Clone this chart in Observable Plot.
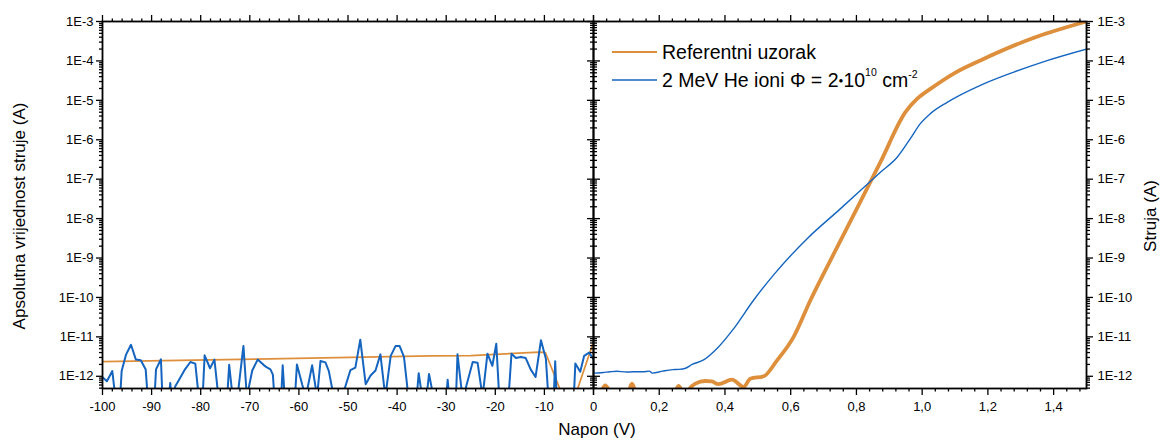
<!DOCTYPE html>
<html><head><meta charset="utf-8">
<script src="https://cdn.jsdelivr.net/npm/d3@7"></script>
<script src="https://cdn.jsdelivr.net/npm/@observablehq/plot@0.6"></script>
<style>
body{margin:0;background:#fff;}
#wrap{position:relative;width:1164px;height:440px;font-family:"Liberation Sans",Arial,sans-serif;}
#wrap svg{position:absolute;top:0;overflow:visible;}
</style></head>
<body><div id="wrap"></div>
<script>
// value used for readings that fall below the bottom of the axis (clipped)
const BELOW = 3e-13;

// Left panel (reverse bias), voltage in V, current in A
const refLeftV = [-100, -66, -33, -25, -11, -9.8, -6.2, -3.8, 0];
const refLeftI = [2.35e-12, 2.75e-12, 3.3e-12, 3.35e-12, 4.1e-12, 4.0e-12, BELOW, BELOW, 7.5e-12];

const ionLeftV = [-100, -99.1, -98, -97.4, -96.4, -96.1, -95.2, -94.2, -93.2, -92.2, -91.2, -90.8, -89.4, -89.1, -88.1, -87.8,
  -86.5, -86.2, -86, -85.4, -85.2, -84.2, -83.2, -82.1, -81.1, -80.4, -79.6, -79.2, -78.1, -77.2, -76.4, -74.6, -74.2, -73.5,
  -72.5, -71.3, -70.6, -69.5, -68.4, -67.2, -66.6, -65.8, -65.3, -65, -63.6, -63.3, -62.9, -60.8, -60.4, -59.3, -58.6, -57.3,
  -56.3, -55.6, -54.6, -53.9, -52.9, -51.2, -49.5, -48.5, -47.5, -46.4, -45.4, -44.4, -43.4, -42.4, -41.3, -40.3, -39.5,
  -38.6, -37.7, -36, -35.6, -34.9, -34, -33.5, -32.6, -30, -29.7, -29.4, -28, -27.7, -26.7, -26.5, -24.6, -23.6, -22.6,
  -21.6, -20.6, -19.8, -19.2, -17.3, -16.7, -15.8, -14.8, -13.8, -12.8, -11.8, -10.7, -9.7, -9.2, -8.1, -7.8, -7.5, -4,
  -3.7, -2.7, -1.9, -0.9, 0];
const ionLeftI = [9.5e-13, 7.5e-13, 1.36e-12, BELOW, BELOW, 1.36e-12, 3.55e-12, 6.3e-12, 2.65e-12, 2.55e-12, 1.48e-12, BELOW, BELOW, 1.5e-12, 2.7e-12, BELOW,
  BELOW, 6.8e-13, BELOW, BELOW, 5.5e-13, 9e-13, 1.5e-12, 2.3e-12, 2.1e-12, BELOW, BELOW, 3.4e-12, 1.6e-12, 2.65e-12, BELOW, BELOW, 1.95e-12, BELOW,
  BELOW, 5.9e-12, BELOW, 1.4e-12, 2.65e-12, 1.95e-12, 1.7e-12, 1.5e-12, 1.1e-12, BELOW, BELOW, 1.9e-12, BELOW, BELOW, 2.0e-12, 6e-13, BELOW, 1.9e-12,
  BELOW, 2.45e-12, 2.25e-12, 1.35e-12, BELOW, BELOW, 1.44e-12, 1.66e-12, 8.5e-12, 6.3e-13, 1.05e-12, 1.4e-12, 3.6e-12, BELOW, 3.3e-12, 5.9e-12, 5.9e-12,
  3.1e-12, BELOW, BELOW, 1.2e-12, BELOW, BELOW, 1.15e-12, BELOW, BELOW, 8.2e-13, BELOW, BELOW, 3.6e-12, BELOW, BELOW, 2.3e-12, 2.2e-12, BELOW,
  3.75e-12, 1.85e-12, 6.7e-12, BELOW, BELOW, 3.75e-12, 2.9e-12, 3.1e-12, 2.9e-12, 1.5e-12, 9.6e-13, 8.2e-12, 2.8e-12, BELOW, BELOW, 2.4e-12, BELOW, BELOW,
  2.1e-12, 1.3e-12, 3.3e-12, 4.0e-12, 2.7e-12];

// Right panel (forward bias)
const refRightV = [0.02, 0.036, 0.06, 0.1, 0.117, 0.135, 0.24, 0.259, 0.28, 0.29, 0.31, 0.34, 0.36, 0.38, 0.421, 0.457, 0.477, 0.518,
  0.558, 0.609, 0.66, 0.75, 0.873, 0.949, 0.985, 1.025, 1.1, 1.177, 1.33, 1.5];
const refRightI = [BELOW, 5.9e-13, BELOW, BELOW, 6.5e-13, BELOW, BELOW, 5.7e-13, BELOW, 4.5e-13, 6.5e-13, 7.6e-13, 7.4e-13, 6.3e-13, 8.2e-13, 5.4e-13, 8.7e-13, 1.0e-12,
  2.5e-12, 1.0e-11, 8.5e-11, 2.6e-9, 2.7e-7, 5.0e-6, 1.1e-5, 1.95e-5, 5.0e-5, 1.03e-4, 3.6e-4, 1.0e-3];

const ionRightV = [0, 0.005, 0.03, 0.05, 0.07, 0.1, 0.12, 0.15, 0.17, 0.18, 0.21, 0.24, 0.26, 0.28, 0.3, 0.335, 0.375, 0.426, 0.487,
  0.55, 0.65, 0.75, 0.873, 0.924, 0.964, 0.995, 1.025, 1.076, 1.177, 1.279, 1.38, 1.5];
const ionRightI = [1.3e-12, 1.2e-12, 1.25e-12, 1.3e-12, 1.34e-12, 1.28e-12, 1.3e-12, 1.3e-12, 1.35e-12, 1.2e-12, 1.35e-12, 1.48e-12, 1.5e-12, 1.6e-12, 2.0e-12, 2.6e-12, 5.0e-12, 1.6e-11, 8.5e-11,
  3.9e-10, 3.1e-9, 1.74e-8, 1.5e-7, 3.6e-7, 1.07e-6, 2.6e-6, 4.6e-6, 8.9e-6, 2.4e-5, 5.2e-5, 1.02e-4, 2.0e-4];

// Axis ticks
const yDomain = [4.9e-13, 1e-3];
const yMajor = [1e-12, 1e-11, 1e-10, 1e-9, 1e-8, 1e-7, 1e-6, 1e-5, 1e-4, 1e-3];
const yMinor = [];
for (let e = -13; e <= -4; e++) for (let m = 2; m <= 9; m++) { const v = m * Math.pow(10, e); if (v >= yDomain[0] && v <= yDomain[1]) yMinor.push(v); }
const xMajorLeft = [-100, -90, -80, -70, -60, -50, -40, -30, -20, -10, 0];
const xMinorLeft = d3.range(-98, 0, 2).filter(d => d % 10 !== 0);
const xMajorRight = [0, 0.2, 0.4, 0.6, 0.8, 1.0, 1.2, 1.4];
const xMinorRight = d3.range(1, 38).filter(k => k % 5 !== 0).map(k => +(k * 0.04).toFixed(2));

const ORANGE = "#de8f3c";
const BLUE = "#1565c0";
const FONT = "'Liberation Sans', Arial, sans-serif";

const table = (V, I) => V.map((v, k) => ({v, i: I[k]}));
const fmtE = d => "1E" + Math.round(Math.log10(d));
const none = () => "";

function frameAxes(xMajor, xMinor, xFmt, ySide) {
  const ax = {label: null, strokeWidth: 1.3, fontSize: 13};
  return [
    Plot.axisY(yMajor, {...ax, anchor: "left", tickSize: 6, tickPadding: 3, tickFormat: ySide === "left" ? fmtE : none}),
    Plot.axisY(yMinor, {...ax, anchor: "left", tickSize: 3, tickFormat: none}),
    Plot.axisY(yMajor, {...ax, anchor: "right", tickSize: 6, tickPadding: 5, tickFormat: ySide === "right" ? fmtE : none}),
    Plot.axisY(yMinor, {...ax, anchor: "right", tickSize: 3, tickFormat: none}),
    Plot.axisX(xMajor, {...ax, anchor: "bottom", tickSize: 7, tickPadding: 6, tickFormat: xFmt}),
    Plot.axisX(xMinor, {...ax, anchor: "bottom", tickSize: 3.5, tickFormat: none}),
    Plot.axisX(xMajor, {...ax, anchor: "top", tickSize: 7, tickFormat: none}),
    Plot.axisX(xMinor, {...ax, anchor: "top", tickSize: 3.5, tickFormat: none}),
  ];
}

const common = {height: 440, marginTop: 21, marginBottom: 52,
  style: {fontFamily: FONT, fontSize: "13px", color: "black", background: "transparent", overflow: "visible"}};

const left = Plot.plot({
  ...common, width: 600, marginLeft: 102, marginRight: 7,
  x: {domain: [-100, 0], label: null},
  y: {type: "log", domain: yDomain, label: null},
  marks: [
    ...frameAxes(xMajorLeft, xMinorLeft, d => d === 0 ? "" : String(d), "left"),
    Plot.line(table(refLeftV, refLeftI), {x: "v", y: "i", stroke: ORANGE, strokeWidth: 1.7, clip: true}),
    Plot.line(table(ionLeftV, ionLeftI), {x: "v", y: "i", stroke: BLUE, strokeWidth: 2, clip: true}),
    Plot.frame({strokeWidth: 1.8})
  ]
});
left.style.left = "0px";

const right = Plot.plot({
  ...common, width: 664, marginLeft: 93, marginRight: 78,
  x: {domain: [0, 1.5], label: null},
  y: {type: "log", domain: yDomain, label: null},
  marks: [
    ...frameAxes(xMajorRight, xMinorRight, d => d === 0 ? "0" : d.toFixed(1).replace(".", ","), "right"),
    Plot.line(table(refRightV, refRightI), {x: "v", y: "i", stroke: ORANGE, strokeWidth: 3.8, curve: "monotone-x", clip: true}),
    Plot.line(table(ionRightV, ionRightI), {x: "v", y: "i", stroke: BLUE, strokeWidth: 1.4, curve: "monotone-x", clip: true}),
    Plot.frame({strokeWidth: 1.8})
  ]
});
right.style.left = "500px";

const wrap = document.getElementById("wrap");
wrap.appendChild(left);
wrap.appendChild(right);

// titles and legend
const ns = "http://www.w3.org/2000/svg";
const over = document.createElementNS(ns, "svg");
over.setAttribute("width", 1164); over.setAttribute("height", 440);
over.style.left = "0px"; over.style.pointerEvents = "none";
over.innerHTML = `
<g font-family="${FONT}" fill="black">
  <text x="597" y="435" font-size="17" text-anchor="middle">Napon (V)</text>
  <text transform="translate(25,216) rotate(-90)" font-size="17" text-anchor="middle">Apsolutna vrijednost struje (A)</text>
  <text transform="translate(1156,216) rotate(-90)" font-size="17" text-anchor="middle">Struja (A)</text>
  <line x1="612" x2="657" y1="52" y2="52" stroke="${ORANGE}" stroke-width="2"/>
  <text x="662" y="59" font-size="19.5">Referentni uzorak</text>
  <line x1="612" x2="657" y1="80" y2="80" stroke="${BLUE}" stroke-width="1.6"/>
  <text x="662" y="87" font-size="19.5">2 MeV He ioni Φ = 2<tspan font-size="8" dy="-4">●</tspan><tspan dy="4">10</tspan><tspan font-size="10.5" dy="-11">10</tspan><tspan dy="11"> cm</tspan><tspan font-size="10.5" dy="-9">-2</tspan></text>
</g>`;
wrap.appendChild(over);
</script>
</body></html>
